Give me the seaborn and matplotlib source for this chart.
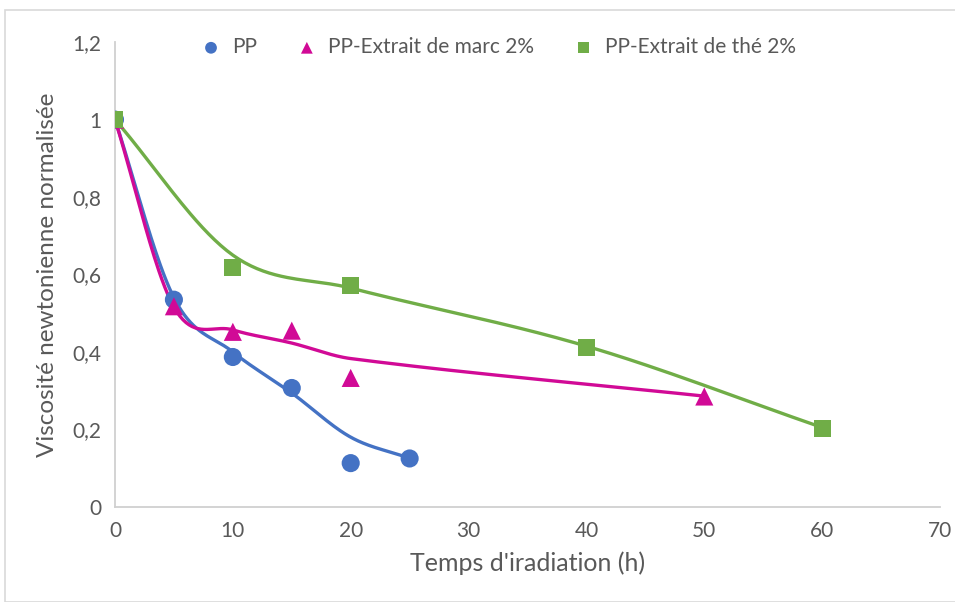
import numpy as np
import pandas as pd
import matplotlib
matplotlib.use("Agg")
import matplotlib.pyplot as plt
import seaborn as sns
from matplotlib.patches import Rectangle
from matplotlib.ticker import FuncFormatter

# measured points
pp_x = [0, 5, 10, 15, 20, 25]
pp_y = [1.0, 0.535, 0.387, 0.307, 0.113, 0.125]
marc_x = [0, 5, 10, 15, 20, 50]
marc_y = [1.0, 0.518, 0.452, 0.455, 0.333, 0.285]
the_x = [0, 10, 20, 40, 60]
the_y = [1.0, 0.617, 0.572, 0.412, 0.202]

# smoothed curve nodes (as drawn in the chart)
pp_fit = [1.0, 0.54, 0.40, 0.294, 0.18, 0.126]
marc_fit = [1.0, 0.516, 0.457, 0.423, 0.383, 0.286]
the_fit = [1.0, 0.65, 0.565, 0.415, 0.205]

labels = ["PP", "PP-Extrait de marc 2%", "PP-Extrait de thé 2%"]
colors = ["#4472C4", "#D10A96", "#70AD47"]
markers = ["o", "^", "s"]

sns.set_theme(style="white")
plt.rcParams['font.family'] = ['Lato', 'DejaVu Sans']


def smooth(xs, ys, n=40):
    # cubic hermite through the nodes, catmull-rom style tangents
    x = np.array(xs, float)
    y = np.array(ys, float)
    m = np.zeros_like(y)
    m[0] = (y[1] - y[0]) / (x[1] - x[0])
    m[-1] = (y[-1] - y[-2]) / (x[-1] - x[-2])
    m[1:-1] = (y[2:] - y[:-2]) / (x[2:] - x[:-2])
    ox, oy = [], []
    for i in range(len(x) - 1):
        h = x[i + 1] - x[i]
        t = np.linspace(0, 1, n)
        if i > 0:
            t = t[1:]
        h00 = 2 * t**3 - 3 * t**2 + 1
        h10 = t**3 - 2 * t**2 + t
        h01 = -2 * t**3 + 3 * t**2
        h11 = t**3 - t**2
        ox.append(x[i] + t * h)
        oy.append(h00 * y[i] + h10 * h * m[i] + h01 * y[i + 1] + h11 * h * m[i + 1])
    return np.concatenate(ox), np.concatenate(oy)


fig = plt.figure(figsize=(9.55, 6.02), dpi=100)
ax = fig.add_axes([0.1204, 0.158, 0.8639, 0.772])

series = [(pp_x, pp_y, pp_fit), (marc_x, marc_y, marc_fit), (the_x, the_y, the_fit)]
for (xs, ys, fit), lab, c, m in zip(series, labels, colors, markers):
    cx, cy = smooth(xs, fit)
    sns.lineplot(x=cx, y=cy, sort=False, estimator=None, color=c, lw=2.4, ax=ax,
                 legend=False, zorder=2)
    ms = 170 if m != "s" else 150
    sns.scatterplot(x=xs, y=ys, color=c, marker=m, s=ms, edgecolor="none", ax=ax, label=lab, zorder=3)

ax.set_xlim(0, 70)
ax.set_ylim(0, 1.2)
ax.set_xticks(range(0, 71, 10))
ax.set_yticks([0, 0.2, 0.4, 0.6, 0.8, 1.0, 1.2])
ax.yaxis.set_major_formatter(FuncFormatter(lambda v, p: ("%g" % round(v, 1)).replace(".", ",")))
ax.tick_params(axis="both", length=0, labelsize=15, labelcolor="#595959", pad=10)
for s in ["top", "right"]:
    ax.spines[s].set_visible(False)
for s in ["left", "bottom"]:
    ax.spines[s].set_color("#D0D0D0")
    ax.spines[s].set_linewidth(1.3)

ax.set_xlabel("Temps d'iradiation (h)", fontsize=18, color="#595959", labelpad=8)
ax.set_ylabel("Viscosité newtonienne normalisée", fontsize=17.5, color="#595959", labelpad=10)

leg = ax.legend(loc="center", bbox_to_anchor=(0.458, 0.989), ncol=3, frameon=False,
                fontsize=15, handletextpad=0.0, columnspacing=1.4, markerscale=0.65)
for t in leg.get_texts():
    t.set_color("#595959")

fig.patches.append(Rectangle((0.005, 0.0), 1.0, 0.983, transform=fig.transFigure,
                             fill=False, edgecolor="#D9D9D9", lw=1.2))

fig.savefig("out.png", dpi=100)
